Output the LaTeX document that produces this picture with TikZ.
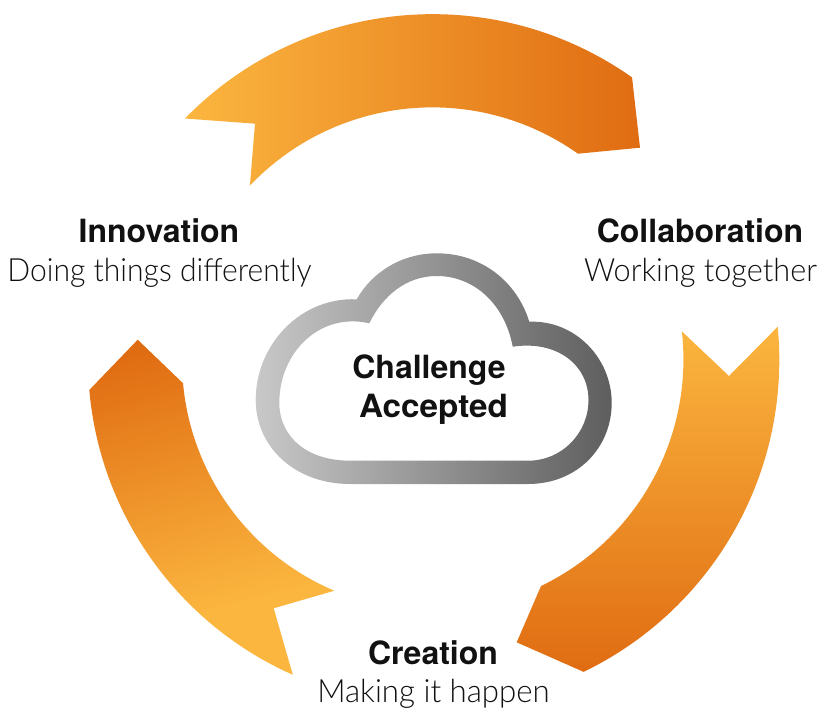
\documentclass[tikz,border=0pt]{standalone}
\usepackage{fontspec}
\setmainfont{TeX Gyre Heros}
\newfontfamily\lightfont{Lato Light}
\definecolor{oglow}{HTML}{FBB63F}
\definecolor{ogdark}{HTML}{E06C12}
\definecolor{cloudl}{HTML}{C8C8C8}
\definecolor{cloudd}{HTML}{5E5E5E}
\definecolor{ink}{HTML}{111111}
\pgfdeclareverticalshading{leftarrowshade}{100bp}{color(0bp)=(oglow); color(34bp)=(oglow); color(77bp)=(ogdark); color(100bp)=(ogdark)}
\tikzset{
  head/.style={inner sep=0pt,anchor=base,text=ink,font=\fontsize{32}{38}\selectfont\bfseries},
  sub/.style={inner sep=0pt,anchor=base,text=ink,font=\fontsize{32}{38}\selectfont\lightfont},
}
\begin{document}
\begin{tikzpicture}[x=1pt,y=-1pt]
\useasboundingbox (0,0) rectangle (819,707);
% top arrow
\path[left color=oglow,right color=ogdark]
  (185,118.5) arc[start angle=-135.7,end angle=-54.8,radius=346]
  -- (640,147.7) -- (578,153.7)
  arc[start angle=-54.7,end angle=-136.4,radius=252]
  -- (255,123.7) -- cycle;
% right arrow
\path[top color=oglow,bottom color=ogdark]
  (777.7,326.7) arc[start angle=-5.5,end angle=64.2,radius=346.5]
  -- (516.7,642.3) -- (541,586)
  arc[start angle=64.3,end angle=-6.4,radius=251.5]
  -- (729,376) -- cycle;
% left arrow
\path[shading=leftarrowshade,shading angle=15]
  (89.3,390) arc[start angle=175,end angle=113.9,radius=344.3]
  -- (273.7,608.3) -- (334.3,590.7)
  arc[start angle=113,end angle=174.8,radius=250]
  -- (137.7,339.7) -- cycle;
% cloud
\path[even odd rule,left color=cloudl,right color=cloudd]
  (350,484) -- (528,484)
  .. controls (578,484) and (611.7,447) .. (611.7,403)
  .. controls (611.7,358) and (575,320) .. (529.3,321.7)
  .. controls (517,282) and (482,253.3) .. (436.7,253.3)
  .. controls (402,253.3) and (372,272) .. (356.7,299.3)
  .. controls (300,297) and (255.7,345) .. (255.7,400)
  .. controls (255.7,447) and (295,484) .. (350,484) -- cycle
  (350,460.7) -- (528,460.7)
  .. controls (562,460.7) and (588.5,433) .. (588.5,400)
  .. controls (588.5,365) and (557,340) .. (512.7,346.7)
  .. controls (505,305) and (475,276) .. (436.7,276)
  .. controls (407,276) and (383,295) .. (369.3,323.3)
  .. controls (320,312) and (279.3,352) .. (279.3,403)
  .. controls (279.3,435) and (305,460.7) .. (350,460.7) -- cycle;
% labels
\node[head] (inno) at (159,242.5) {Innovation};
\node[sub] (innosub) at (159.5,281) {\scalebox{0.94}[1]{Doing things differently}};
\node[head] (coll) at (700,242.5) {Collaboration};
\node[sub] (collsub) at (700.5,281) {\scalebox{0.958}[1]{Working together}};
\node[head] (crea) at (433,664) {Creation};
\node[sub] (creasub) at (433.5,702.7) {\scalebox{0.975}[1]{Making it happen}};
\node[head] (chal) at (429,378.5) {Challenge};
\node[head] (acce) at (433.5,417) {\scalebox{1.04}[1]{Accepted}};
\end{tikzpicture}
\end{document}
